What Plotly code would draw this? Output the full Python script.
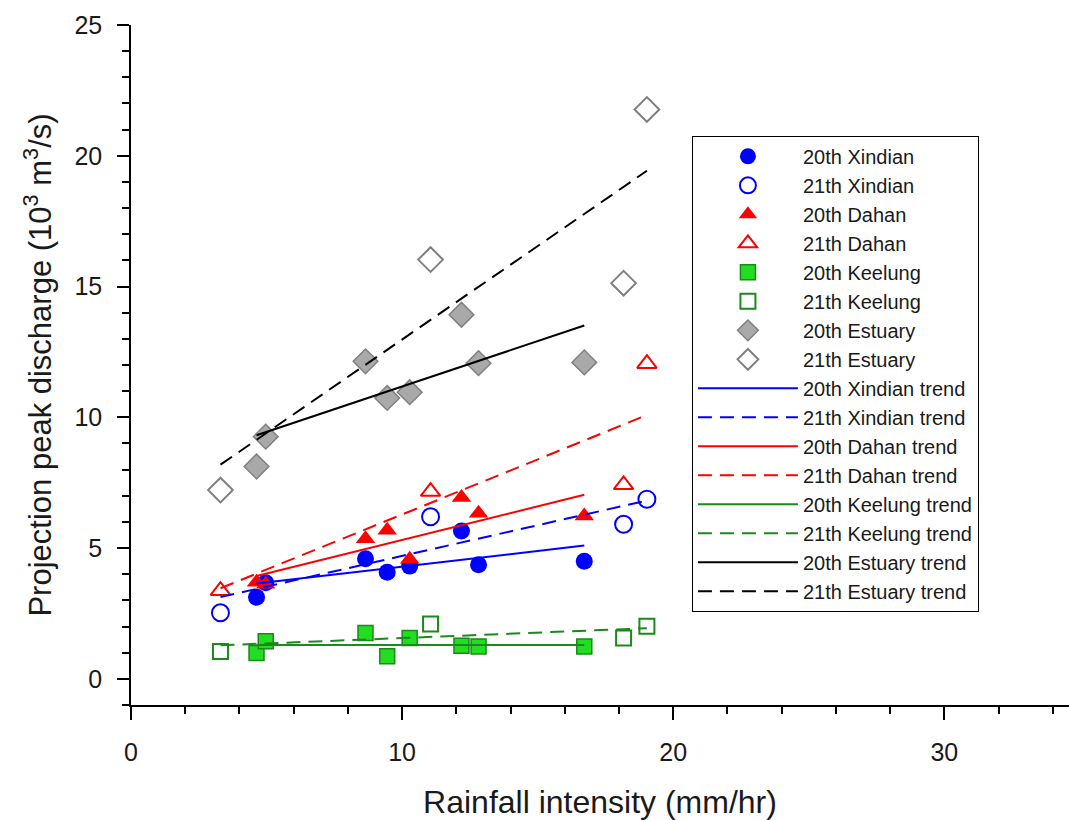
import numpy as np
import plotly.graph_objects as go

# ---- data ----
x20 = [4.63, 4.97, 8.65, 9.45, 10.28, 12.19, 12.82, 16.72]
xindian20 = [3.12, 3.67, 4.59, 4.08, 4.31, 5.65, 4.36, 4.50]
dahan20 = [3.69, 3.62, 5.36, 5.68, 4.57, 6.93, 6.33, 6.23]
keelung20 = [0.99, 1.44, 1.75, 0.86, 1.56, 1.27, 1.24, 1.24]
estuary20 = [8.12, 9.26, 12.14, 10.74, 10.96, 13.92, 12.07, 12.10]

x21 = [3.30, 11.05, 18.17, 19.03]
xindian21 = [2.53, 6.20, 5.91, 6.87]
dahan21 = [3.37, 7.16, 7.42, 12.05]
keelung21 = [1.05, 2.10, 1.56, 2.01]
estuary21 = [7.22, 16.03, 15.13, 21.77]

BLUE = "#0000FF"
RED = "#FF0000"
GREEN_FILL = "#22DD22"
GREEN_LINE = "#1A8A1A"
GREY_FILL = "#A9A9A9"
GREY_LINE = "#808080"

fig = go.Figure()

markers = [
    ("20th Xindian", x20, xindian20, dict(symbol="circle", size=17, color=BLUE, line=dict(width=0))),
    ("21th Xindian", x21, xindian21, dict(symbol="circle-open", size=17, color=BLUE, line=dict(width=2, color=BLUE))),
    ("20th Dahan", x20, dahan20, dict(symbol="triangle-up", size=17, color=RED, line=dict(width=0))),
    ("21th Dahan", x21, dahan21, dict(symbol="triangle-up-open", size=17, color=RED, line=dict(width=2, color=RED))),
    ("20th Keelung", x20, keelung20, dict(symbol="square", size=15, color=GREEN_FILL, line=dict(width=1.5, color=GREEN_LINE))),
    ("21th Keelung", x21, keelung21, dict(symbol="square-open", size=15, color=GREEN_LINE, line=dict(width=2, color=GREEN_LINE))),
    ("20th Estuary", x20, estuary20, dict(symbol="diamond", size=19, color=GREY_FILL, line=dict(width=1.5, color=GREY_LINE))),
    ("21th Estuary", x21, estuary21, dict(symbol="diamond-open", size=19, color=GREY_LINE, line=dict(width=2, color=GREY_LINE))),
]

for i, (name, xs, ys, mk) in enumerate(markers):
    fig.add_trace(go.Scatter(x=xs, y=ys, mode="markers", name=name, marker=mk,
                             legendgroup=f"g{i}"))

trends = [
    ("20th Xindian trend", x20, xindian20, BLUE, "solid"),
    ("21th Xindian trend", x21, xindian21, BLUE, "14px,8px"),
    ("20th Dahan trend", x20, dahan20, RED, "solid"),
    ("21th Dahan trend", x21, dahan21, RED, "14px,8px"),
    ("20th Keelung trend", x20, keelung20, GREEN_LINE, "solid"),
    ("21th Keelung trend", x21, keelung21, GREEN_LINE, "14px,8px"),
    ("20th Estuary trend", x20, estuary20, "#000000", "solid"),
    ("21th Estuary trend", x21, estuary21, "#000000", "14px,8px"),
]

for j, (name, xs, ys, col, dash) in enumerate(trends):
    slope, icpt = np.polyfit(xs, ys, 1)
    xl = [min(xs), max(xs)]
    yl = [slope * v + icpt for v in xl]
    fig.add_trace(go.Scatter(x=xl, y=yl, mode="lines", name=name,
                             line=dict(color=col, width=2, dash=dash),
                             legendgroup=f"t{j}"))

FONT = "Liberation Sans, Arial, sans-serif"

fig.update_layout(
    width=1069, height=820,
    margin=dict(l=131, r=0, t=25, b=115, autoexpand=False),
    paper_bgcolor="white", plot_bgcolor="white",
    font=dict(family=FONT, color="#1a1a1a"),
    showlegend=True,
    legend=dict(
        x=0.598, y=0.837, xanchor="left", yanchor="top",
        bordercolor="#000000", borderwidth=1, bgcolor="white",
        font=dict(family=FONT, size=20, color="#1a1a1a"),
        traceorder="grouped", tracegroupgap=0, itemwidth=100,
    ),
    xaxis=dict(
        range=[0, 34.6], showgrid=False, zeroline=False,
        showline=True, linecolor="black", linewidth=1.5,
        ticks="outside", ticklen=13, tickwidth=1.5, tickcolor="black",
        tick0=0, dtick=10, ticklabelstandoff=11,
        tickfont=dict(size=25, family=FONT, color="#1a1a1a"),
        minor=dict(ticks="outside", ticklen=7, dtick=2, tickcolor="black", tickwidth=1.5, showgrid=False),
        title=dict(text="Rainfall intensity (mm/hr)", font=dict(size=32, family=FONT, color="#1a1a1a"), standoff=28),
    ),
    yaxis=dict(
        range=[-1, 25], showgrid=False, zeroline=False,
        showline=True, linecolor="black", linewidth=1.5,
        ticks="outside", ticklen=12, tickwidth=1.5, tickcolor="black",
        tick0=0, dtick=5, ticklabelstandoff=10,
        tickfont=dict(size=25, family=FONT, color="#1a1a1a"),
        minor=dict(ticks="outside", ticklen=7, dtick=1, tickcolor="black", tickwidth=1.5, showgrid=False),
        title=dict(text="Projection peak discharge (10<sup>3</sup> m<sup>3</sup>/s)",
                   font=dict(size=31, family=FONT, color="#1a1a1a"), standoff=14),
    ),
)

fig.write_html("out.html")
